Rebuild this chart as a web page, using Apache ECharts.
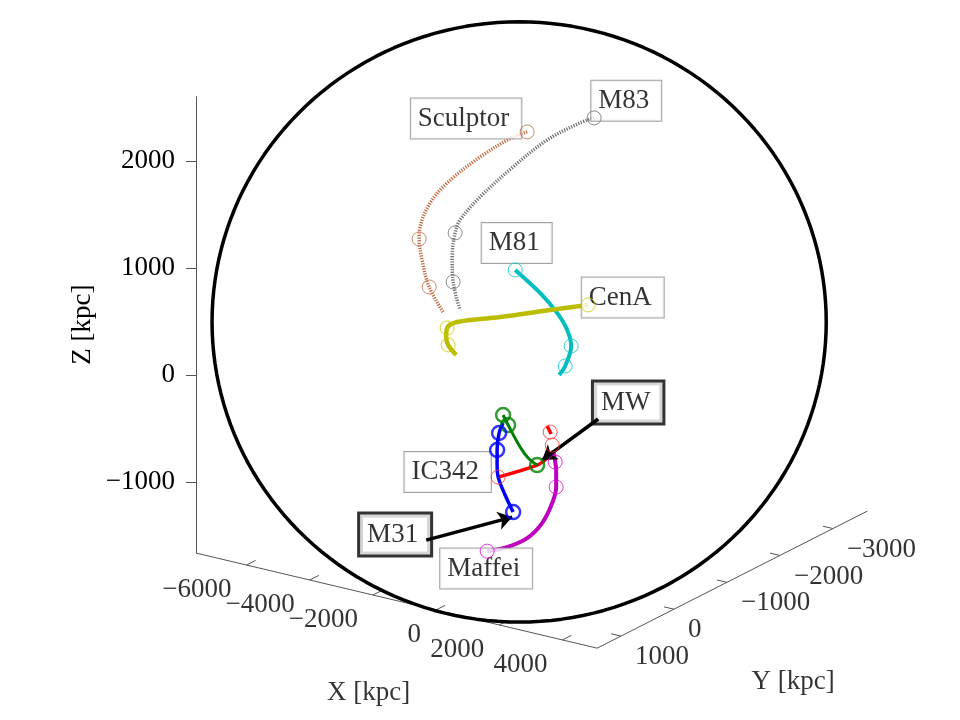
<!DOCTYPE html>
<html>
<head>
<meta charset="utf-8">
<script src="https://cdn.jsdelivr.net/npm/echarts@6/dist/echarts.min.js"></script>
<style>
  html, body { margin: 0; background: #fff; }
  #chart { width: 960px; height: 720px; }
</style>
</head>
<body>
<div id="chart"></div>
<script>
// projected view positions in kpc: [across, height]
const sculptor = [[3095,2272],[2964,2225],[2655,2038],[2347,1795],[2188,1608],[2094,1384],[2085,1272],[2113,1075],[2179,823],[2309,589]];
const sculptorMarks = [[3095,2272],[2085,1272],[2179,823]];
const m83 = [[3721,2403],[3590,2356],[3282,2197],[2964,1945],[2655,1664],[2468,1449],[2422,1328],[2394,1103],[2403,870],[2468,608]];
const m83Marks = [[3721,2403],[2422,1328],[2403,870]];
const m81 = [[2983,982],[3216,767],[3375,580],[3469,421],[3506,271],[3450,84],[3394,0]];
const m81Marks = [[2983,982],[3506,271],[3450,84]];
const cenA = [[3665,655],[3310,608],[2842,542],[2440,496],[2347,439],[2338,355],[2356,281],[2431,187]];
const cenAMarks = [[3665,655],[2347,439],[2356,281]];
const mw = [[2870,-374],[2917,-468],[3029,-673],[3104,-776],[3188,-842]];
const mwMarks = [[2870,-374],[2917,-468],[3188,-842]];
const m31 = [[2870,-449],[2833,-542],[2814,-701],[2814,-842],[2824,-954],[2889,-1122],[2964,-1281]];
const m31Marks = [[2833,-542],[2814,-701],[2964,-1281]];
const ic342 = [[2824,-954],[3188,-842],[3273,-785],null,[3319,-552],[3282,-477]];
const ic342Marks = [[2824,-954],[3329,-655],[3310,-533]];
const maffei = [[2721,-1646],[2908,-1608],[3095,-1524],[3235,-1384],[3329,-1197],[3366,-1047],[3366,-888],[3357,-813],[3338,-701]];
const maffeiMarks = [[2721,-1646],[3366,-1047],[3357,-813]];

const xTicks = [-6000, -4000, -2000, 0, 2000, 4000];
const yTicks = [1000, 0, -1000, -2000, -3000];
const zTicks = [-1000, 0, 1000, 2000];
const xLim = [-7600, 5100];
const yLim = [-3650, 1450];
const zLim = [-1660, 2600];

// layout: screen scale and box corners (kpc in the projected plane)
const kpcPerPx = 1000 / 107;
const cornerA = [0, -1664];      // Xmin, Ymax, Zmin
const cornerB = [3749, -2553];   // Xmax, Ymax, Zmin
const cornerC = [6274, -1272];   // Xmax, Ymin, Zmin
const ring = { c: [3020, 496], r: [2870, 2805] };

const FONT = 'Liberation Serif';
const AXIS = '#555';
const TXT = '#000';
const FS = 27;

const lerp = (p, q, t) => [p[0] + (q[0] - p[0]) * t, p[1] + (q[1] - p[1]) * t];
const xPos = x => lerp(cornerA, cornerB, (x - xLim[0]) / (xLim[1] - xLim[0]));
const yPos = y => lerp(cornerB, cornerC, (yLim[1] - y) / (yLim[1] - yLim[0]));
const unit = (p, q, len) => {
  const dx = q[0] - p[0], dy = q[1] - p[1], n = Math.hypot(dx, dy);
  return [dx / n * len, dy / n * len];
};
const minus = v => String(v).replace('-', '\u2212');

function track(data, color, width, dotted) {
  return {
    type: 'line', data, showSymbol: false, smooth: 0.35, silent: true, z: 3,
    lineStyle: { color, width, type: dotted ? [1.2, 1.4] : 'solid', cap: 'butt' }
  };
}
function marks(data, color, bw) {
  return {
    type: 'scatter', data, symbol: 'circle', symbolSize: 14, silent: true, z: 5,
    itemStyle: { color: 'rgba(0,0,0,0)', borderColor: color, borderWidth: bw }
  };
}
function textAt(points, texts, align, offset, extra, z) {
  return {
    type: 'scatter', symbolSize: 1, silent: true, z: z || 6,
    itemStyle: { color: 'rgba(0,0,0,0)' },
    data: points.map((p, i) => ({ value: p, name: texts[i] })),
    label: Object.assign({
      show: true, position: 'inside', formatter: '{b}', align, verticalAlign: 'middle',
      offset, fontFamily: FONT, fontSize: FS, color: TXT
    }, extra || {})
  };
}
function tag(name, at, thick) {
  return textAt([at], [name], 'center', [0, 0], {
    backgroundColor: '#fff',
    borderColor: thick ? '#000' : '#8c8c8c',
    borderWidth: thick ? 3 : 1,
    padding: [5, 12, 4, 7],
    lineHeight: 31
  }, 4);
}

// axis lines and ticks of the 3-D box floor
const xTickLen = unit(cornerB, cornerC, 95);
const yTickLen = unit(cornerB, cornerA, 95);
const tickSegs = [];
xTicks.forEach(x => { const p = xPos(x); tickSegs.push(p, [p[0] + xTickLen[0], p[1] + xTickLen[1]], null); });
yTicks.forEach(y => { const p = yPos(y); tickSegs.push(p, [p[0] + yTickLen[0], p[1] + yTickLen[1]], null); });

const ellipse = [];
for (let i = 0; i <= 180; i++) {
  const a = i / 180 * 2 * Math.PI;
  ellipse.push([ring.c[0] + ring.r[0] * Math.cos(a), ring.c[1] + ring.r[1] * Math.sin(a)]);
}

const chart = echarts.init(document.getElementById('chart'));
chart.setOption({
  animation: false,
  backgroundColor: '#fff',
  grid: [
    { left: 0, top: 0, width: 960, height: 720 },
    { left: 196, top: 375 - zLim[1] / kpcPerPx, width: 1, height: (zLim[1] - zLim[0]) / kpcPerPx }
  ],
  xAxis: [
    { type: 'value', min: -196 * kpcPerPx, max: 764 * kpcPerPx, show: false },
    { type: 'value', gridIndex: 1, min: 0, max: 1, show: false }
  ],
  yAxis: [
    { type: 'value', min: -345 * kpcPerPx, max: 375 * kpcPerPx, show: false },
    {
      type: 'value', gridIndex: 1, min: zLim[0], max: zLim[1], position: 'left',
      name: 'Z [kpc]', nameLocation: 'middle', nameGap: 100, nameRotate: 90,
      nameTextStyle: { fontFamily: FONT, fontSize: FS, color: TXT },
      axisLine: { show: true, lineStyle: { color: AXIS, width: 1 } },
      axisTick: { show: true, customValues: zTicks, length: 10, lineStyle: { color: AXIS } },
      axisLabel: { customValues: zTicks, margin: 21, formatter: minus, fontFamily: FONT, fontSize: FS, color: TXT },
      splitLine: { show: false }
    }
  ],
  series: [
    { type: 'line', data: [cornerA, cornerB, cornerC], showSymbol: false, silent: true, z: 1,
      lineStyle: { color: AXIS, width: 1 } },
    { type: 'line', data: tickSegs, showSymbol: false, silent: true, z: 1,
      lineStyle: { color: AXIS, width: 1 } },
    textAt(xTicks.map(xPos), xTicks.map(minus), 'right', [-15, 25]),
    textAt(yTicks.map(yPos), yTicks.map(minus), 'left', [14, 21]),
    textAt([xPos((xLim[0] + xLim[1]) / 2)], ['X [kpc]'], 'center', [-28, 92]),
    textAt([yPos((yLim[0] + yLim[1]) / 2)], ['Y [kpc]'], 'center', [61, 102]),
    { type: 'line', data: ellipse, showSymbol: false, silent: true, z: 2,
      lineStyle: { color: '#000', width: 3.5 } },

    track(sculptor, '#c4693f', 3.5, true),
    track(m83, '#6e6e6e', 3.5, true),
    track(m81, '#00bdbd', 4),
    track(cenA, '#bdbd00', 4.5),
    track(maffei, '#bf00bf', 4),
    track(ic342, '#ff0000', 3.5),
    track(mw, '#008000', 3),
    track(m31, '#0000ff', 3.5),
    marks(sculptorMarks, '#c4693f', 1),
    marks(m83Marks, '#6e6e6e', 1),
    marks(m81Marks, '#00c8c8', 1),
    marks(cenAMarks, '#c8c800', 1),
    marks(maffeiMarks, '#e000e0', 1),
    marks(ic342Marks, '#ff3030', 1),
    marks(mwMarks, '#008000', 2.5),
    marks(m31Marks, '#0000ff', 2.5),

    { type: 'lines', coordinateSystem: 'cartesian2d', silent: true, z: 5,
      symbol: ['none', 'arrow'], symbolSize: [8, 14],
      lineStyle: { color: '#000', width: 3.5, opacity: 1 },
      data: [
        { coords: [[3759, -411], [3235, -795]] },
        { coords: [[2151, -1543], [2955, -1328]] }
      ] },

    tag('Sculptor', [2524, 2398]),
    tag('M83', [4021, 2562]),
    tag('M81', [2997, 1234]),
    tag('CenA', [3988, 725]),
    tag('IC342', [2352, -907]),
    tag('Maffei', [2712, -1809]),
    tag('MW', [4039, -257], true),
    tag('M31', [1861, -1491], true)
  ]
});
</script>
</body>
</html>
